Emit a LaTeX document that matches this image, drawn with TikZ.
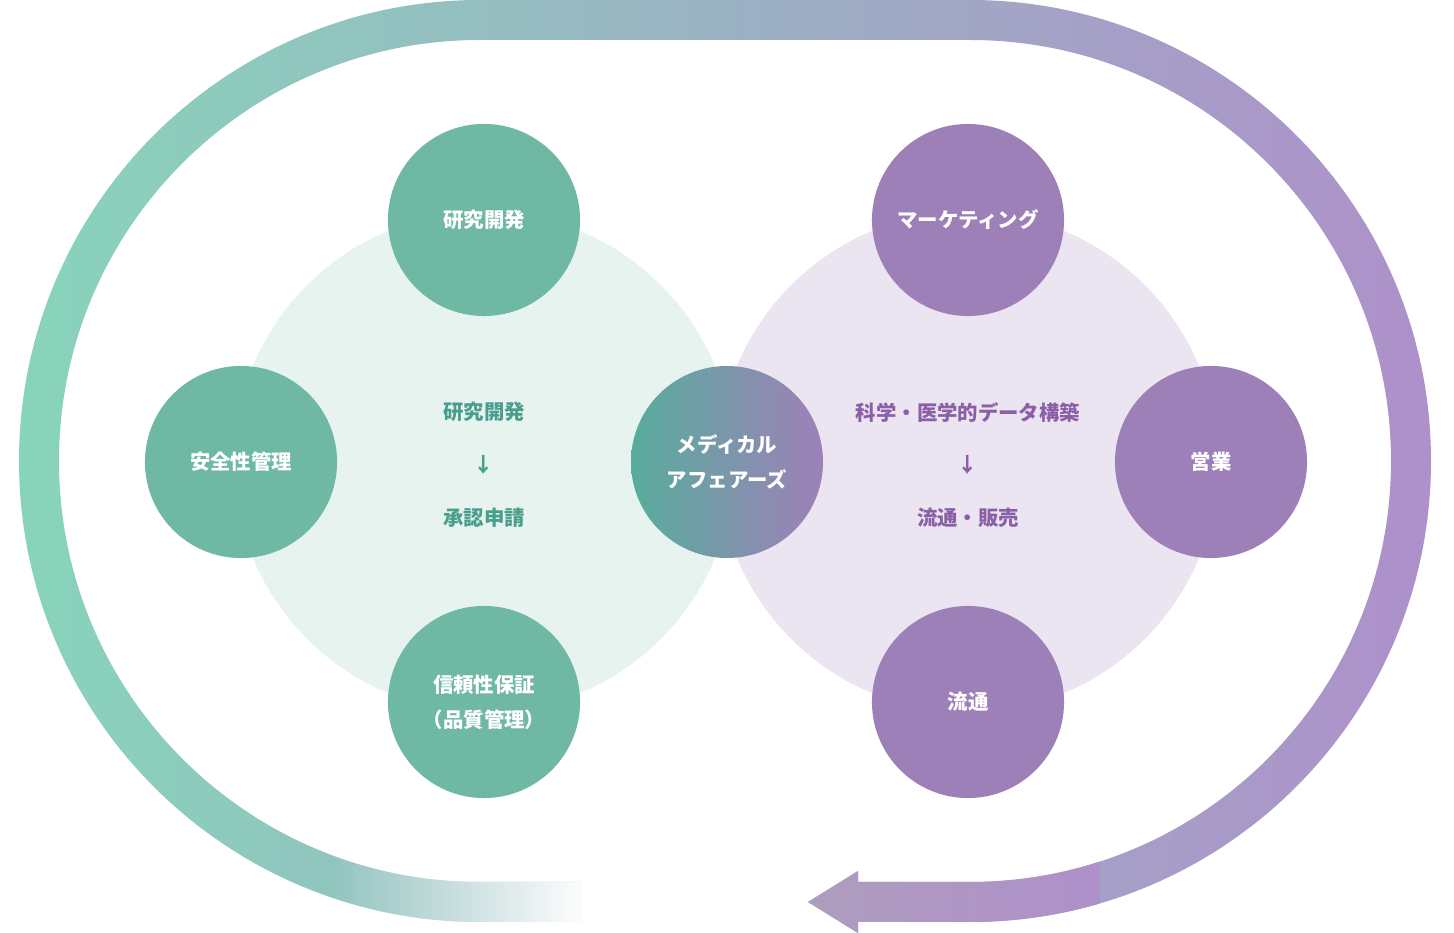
\documentclass[tikz,border=0pt]{standalone}
\usepackage{fontspec}
\newfontfamily\cjk{Noto Sans CJK JP}
\usetikzlibrary{positioning,fadings}
\definecolor{tealA}{HTML}{6EB8A4}
\definecolor{tealB}{HTML}{E6F3EE}
\definecolor{tealT}{HTML}{4A9E8E}
\definecolor{purA}{HTML}{9E80B8}
\definecolor{purB}{HTML}{EAE5F0}
\definecolor{purT}{HTML}{8A5FA8}
\definecolor{loopL}{HTML}{88D4BB}
\definecolor{loopR}{HTML}{AE90CA}
\tikzfading[name=faderight, left color=transparent!100, right color=transparent!0]
\tikzset{
  basic/.style  = {circle, minimum size=1.92cm, inner sep=0pt, align=center,
                   font=\cjk\bfseries\fontsize{5.8}{10}\selectfont, text=white},
  green/.style  = {basic, fill=tealA},
  purple/.style = {basic, fill=purA},
  big/.style    = {circle, minimum size=5cm, inner sep=0pt},
  inner/.style  = {font=\cjk\bfseries\fontsize{5.8}{7}\selectfont}
}
\begin{document}
\begin{tikzpicture}[x=0.01cm,y=0.01cm]
\useasboundingbox (0,0) rectangle (1454,933);
% outer loop
\def\looppath{(580,11) -- (480,11) arc(270:90:461) -- (970,933) arc(90:-90:461)
  -- (858,11) -- (858,0) -- (808,31) -- (858,62) -- (858,51) -- (970,51)
  arc(-90:90:421) -- (480,893) arc(90:270:421) -- (580,51) -- cycle}
\shade[left color=loopL, right color=loopR] \looppath;
\begin{scope}
  \clip \looppath;
  \fill[white, path fading=faderight] (330,0) rectangle (585,120);
  \shade[left color=loopR!80!black!70!white, right color=loopR] (800,0) rectangle (1100,70);
\end{scope}
% big circles
\node[big, fill=tealB] (left) at (484,471) {};
\node[big, fill=purB] (right) at (968,471) {};
% left side
\node[green] (rd) at (484,713) {研究開発};
\node[green] (safety) at (241,471) {安全性管理};
\node[green] (qa) at (484,231) {信頼性保証\\（品質管理）};
\node[inner, text=tealT, align=center] (lt) at (484,468) {研究開発\\[8pt]↓\\[8pt]承認申請};
% right side
\node[purple] (mkt) at (968,713) {マーケティング};
\node[purple] (sales) at (1211,471) {営業};
\node[purple] (dist) at (968,231) {流通};
\node[inner, text=purT, align=center] (rt) at (968,468) {科学・医学的データ構築\\[8pt]↓\\[8pt]流通・販売};
% middle
\shade[left color=tealA!80!teal, right color=purA] (727,471) circle (96);
\node[basic] (ma) at (727,471) {メディカル\\アフェアーズ};
\end{tikzpicture}
\end{document}
